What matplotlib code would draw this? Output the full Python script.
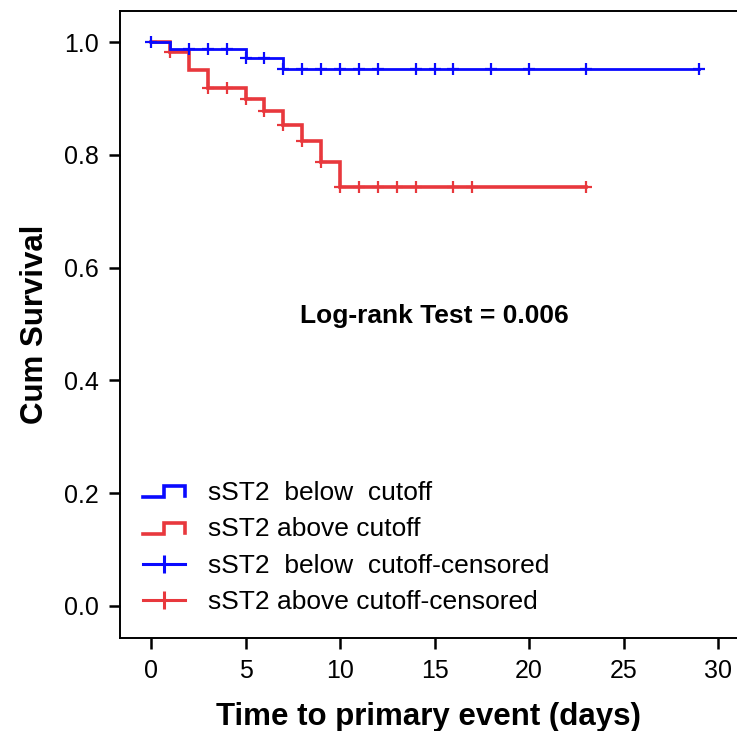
import numpy as np
import matplotlib
matplotlib.use('Agg')
import matplotlib.pyplot as plt
from matplotlib.lines import Line2D
from matplotlib.legend_handler import HandlerBase

plt.rcParams['font.family'] = ['Liberation Sans', 'DejaVu Sans']

# sST2 below cutoff
low_event_days = [1, 5, 7]
low_event_surv = [0.987, 0.972, 0.952]
low_censor_days = [0, 2, 3, 4, 5, 6, 7, 8, 9, 10, 11, 12, 14, 15, 16, 18, 20, 23, 29]

# sST2 above cutoff
high_event_days = [1, 2, 3, 5, 6, 7, 8, 9, 10]
high_event_surv = [0.983, 0.950, 0.918, 0.899, 0.878, 0.853, 0.825, 0.788, 0.743]
high_censor_days = [1, 3, 4, 5, 6, 7, 8, 9, 10, 11, 12, 13, 14, 16, 17, 23]

labels = ["sST2  below  cutoff", "sST2 above cutoff",
          "sST2  below  cutoff-censored", "sST2 above cutoff-censored"]
x_ticks = [0, 5, 10, 15, 20, 25, 30]
y_ticks = [0.0, 0.2, 0.4, 0.6, 0.8, 1.0]
logrank_text = "Log-rank Test = 0.006"

BLUE = '#0a0aff'
RED = '#e8383d'


class StepHandler(HandlerBase):
    """Legend key drawn as a little survival step."""
    def create_artists(self, legend, orig_handle, xdescent, ydescent,
                       width, height, fontsize, trans):
        xs = np.array([0.0, 0.5, 0.5, 1.0, 1.0]) * width - xdescent
        ys = np.array([0.15, 0.15, 0.75, 0.75, 0.2]) * height - ydescent
        line = Line2D(xs, ys, color=orig_handle.get_color(),
                      lw=orig_handle.get_linewidth(), transform=trans,
                      solid_joinstyle='miter')
        return [line]


def step_curve(ax, days, surv, censor, color, lw):
    last = max(censor)
    t = [0] + list(days) + [last]
    s = [1.0] + list(surv) + [surv[-1]]
    ax.step(t, s, where='post', color=color, lw=lw, solid_joinstyle='miter')
    # censored marks sit on the curve value at that day
    idx = np.searchsorted(days, censor, side='right')
    levels = np.concatenate([[1.0], surv])[idx]
    ax.plot(censor, levels, ls='none', marker='+', ms=8.5, mew=1.6, color=color)


fig = plt.figure(figsize=(7.37, 7.31), dpi=100)
ax = fig.add_axes([0.1628, 0.1272, 0.8372, 0.8577])

step_curve(ax, high_event_days, high_event_surv, high_censor_days, RED, 2.6)
step_curve(ax, low_event_days, low_event_surv, low_censor_days, BLUE, 2.0)

ax.set_xlim(-1.64, 31.0)
ax.set_ylim(-0.057, 1.055)
ax.set_xticks(x_ticks)
ax.set_yticks(y_ticks)
ax.set_yticklabels([f"{v:.1f}" for v in y_ticks])
ax.tick_params(direction='out', length=8, width=1.8, labelsize=18, pad=7)
ax.spines['right'].set_visible(False)
for sp in ['left', 'bottom', 'top']:
    ax.spines[sp].set_linewidth(1.4)

ax.set_xlabel("Time to primary event (days)", fontsize=22.5, fontweight='bold', labelpad=14)
ax.set_ylabel("Cum Survival", fontsize=22.5, fontweight='bold', labelpad=10)

ax.text(15, 0.515, logrank_text, fontsize=19, fontweight='bold', ha='center', va='center')

h1 = Line2D([], [], color=BLUE, lw=2.6)
h2 = Line2D([], [], color=RED, lw=2.6)
h3 = Line2D([], [], color=BLUE, lw=2.2, marker='|', ms=13, mew=2.2)
h4 = Line2D([], [], color=RED, lw=2.2, marker='|', ms=13, mew=2.2)
ax.legend([h1, h2, h3, h4], labels, loc='upper left', bbox_to_anchor=(0.037, 0.2505),
          frameon=False, fontsize=19, handlelength=1.6, handletextpad=0.87,
          labelspacing=0.47, borderaxespad=0, borderpad=0,
          handler_map={h1: StepHandler(), h2: StepHandler()})

fig.savefig('out.png', dpi=100)
